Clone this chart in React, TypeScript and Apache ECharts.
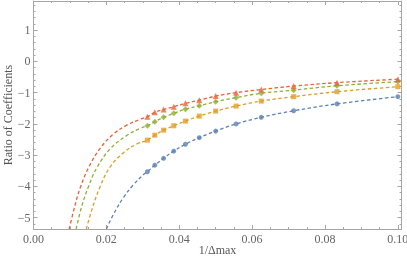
import React, { useEffect, useRef } from "react";
import * as echarts from "echarts";

// x positions: 1/Δmax
const xValues = [0.03125, 0.0333, 0.0357, 0.0385, 0.0417, 0.0455, 0.05, 0.0556, 0.0625, 0.0714, 0.0833, 0.1];
const blueValues = [-3.53, -3.32, -3.1, -2.87, -2.65, -2.44, -2.23, -2.0, -1.79, -1.58, -1.36, -1.13];
const orangeValues = [-2.52, -2.36, -2.2, -2.06, -1.91, -1.75, -1.59, -1.43, -1.27, -1.13, -0.97, -0.81];
const greenValues = [-2.06, -1.93, -1.79, -1.66, -1.53, -1.42, -1.29, -1.16, -1.02, -0.92, -0.78, -0.65];
const redValues = [-1.77, -1.63, -1.54, -1.45, -1.34, -1.24, -1.11, -1.0, -0.9, -0.79, -0.68, -0.57];

const redCurveExt = [[0.0098, -5.36], [0.0114, -4.6], [0.0128, -4.05], [0.0151, -3.4], [0.0183, -2.78], [0.0219, -2.33], [0.0256, -2.04], [0.0293, -1.85]];
const greenCurveExt = [[0.0117, -5.36], [0.0132, -4.65], [0.0151, -4.0], [0.0174, -3.4], [0.021, -2.8], [0.0256, -2.37], [0.0293, -2.14]];
const orangeCurveExt = [[0.0145, -5.36], [0.016, -4.75], [0.0183, -4.0], [0.021, -3.38], [0.0247, -2.92], [0.0284, -2.64]];
const blueCurveExt = [[0.02, -5.36], [0.0219, -4.9], [0.0247, -4.35], [0.0274, -3.95], [0.0302, -3.62]];

const yMajorTicks = [-5, -4, -3, -2, -1, 0, 1];
const yMinorTicks = [-5.2, -4.8, -4.6, -4.4, -4.2, -3.8, -3.6, -3.4, -3.2, -2.8, -2.6, -2.4, -2.2, -1.8, -1.6, -1.4, -1.2, -0.8, -0.6, -0.4, -0.2, 0.2, 0.4, 0.6, 0.8, 1.2, 1.4, 1.6, 1.8];

const COLORS = { blue: "#5E81B5", orange: "#E19C24", green: "#8FB032", red: "#EB6235" };
const FONT = "Liberation Serif";
const AXIS_COLOR = "#a6a6a6";
const LABEL_COLOR = "#666666";

function pairs(xs: number[], ys: number[]) {
  return xs.map((x, i) => [x, ys[i]]);
}

export default function App() {
  const ref = useRef<HTMLDivElement>(null);
  useEffect(() => {
    if (!ref.current) return;
    const chart = echarts.init(ref.current, null, { renderer: "svg" });
    const sets = [
      { key: "blue", vals: blueValues, ext: blueCurveExt, symbol: "circle", size: 5 },
      { key: "orange", vals: orangeValues, ext: orangeCurveExt, symbol: "rect", size: 5 },
      { key: "green", vals: greenValues, ext: greenCurveExt, symbol: "diamond", size: 6 },
      { key: "red", vals: redValues, ext: redCurveExt, symbol: "triangle", size: 6 },
    ];
    const series: any[] = [];
    sets.forEach((s) => {
      const color = (COLORS as any)[s.key];
      series.push({
        type: "line",
        data: [...s.ext, ...pairs(xValues, s.vals)],
        smooth: 0.4,
        showSymbol: false,
        symbol: "none",
        clip: true,
        lineStyle: { color, width: 1.3, type: [3.5, 2.5] },
        silent: true,
        z: 2,
      });
    });
    sets.forEach((s) => {
      const color = (COLORS as any)[s.key];
      series.push({
        type: "scatter",
        data: pairs(xValues, s.vals),
        symbol: s.symbol,
        symbolSize: s.size,
        itemStyle: { color },
        z: 3,
      });
    });
    const labelStyle = { color: LABEL_COLOR, fontFamily: FONT, fontSize: 12 };
    const yFmt = (v: number) => String(v).replace("-", "\u2212");
    const line = { show: true, onZero: false, lineStyle: { color: AXIS_COLOR } };
    const noLine = { show: false, onZero: false };
    chart.setOption({
      animation: false,
      grid: { left: 33.5, right: 5.5, top: 1, bottom: 32, containLabel: false, outerBoundsMode: "none" },
      xAxis: [
        {
          type: "value",
          position: "bottom",
          min: 0,
          max: 0.101,
          interval: 0.02,
          axisLine: line,
          axisTick: { show: true, inside: true, length: 4, lineStyle: { color: AXIS_COLOR } },
          minorTick: { show: true, splitNumber: 4, length: 2, lineStyle: { color: AXIS_COLOR } },
          splitLine: { show: false },
          axisLabel: { ...labelStyle, margin: 4, formatter: (v: number) => v.toFixed(2) },
          name: "1/\u0394max",
          nameLocation: "middle",
          nameGap: 15,
          nameMoveOverlap: false,
          nameTextStyle: { color: "#555", fontFamily: FONT, fontSize: 12 },
        },
        {
          type: "value",
          position: "top",
          min: 0,
          max: 0.101,
          interval: 0.02,
          axisLine: line,
          axisTick: { show: true, inside: true, length: 4, lineStyle: { color: AXIS_COLOR } },
          minorTick: { show: true, splitNumber: 4, length: 2, lineStyle: { color: AXIS_COLOR } },
          splitLine: { show: false },
          axisLabel: { show: false },
        },
      ],
      yAxis: [
        {
          type: "value",
          position: "left",
          min: -5.36,
          max: 1.93,
          axisLine: line,
          axisTick: { show: true, inside: true, length: 4, customValues: yMajorTicks, lineStyle: { color: AXIS_COLOR } },
          splitLine: { show: false },
          axisLabel: { ...labelStyle, margin: 3, customValues: yMajorTicks, formatter: yFmt },
          name: "Ratio of Coefficients",
          nameLocation: "middle",
          nameGap: 20,
          nameMoveOverlap: false,
          nameRotate: 90,
          nameTextStyle: { color: "#555", fontFamily: FONT, fontSize: 12 },
        },
        {
          type: "value",
          position: "left",
          min: -5.36,
          max: 1.93,
          axisLine: noLine,
          axisTick: { show: true, inside: true, length: 2, customValues: yMinorTicks, lineStyle: { color: AXIS_COLOR } },
          splitLine: { show: false },
          axisLabel: { show: false },
        },
        {
          type: "value",
          position: "right",
          min: -5.36,
          max: 1.93,
          axisLine: line,
          axisTick: { show: true, inside: true, length: 4, customValues: yMajorTicks, lineStyle: { color: AXIS_COLOR } },
          splitLine: { show: false },
          axisLabel: { show: false },
        },
        {
          type: "value",
          position: "right",
          min: -5.36,
          max: 1.93,
          axisLine: noLine,
          axisTick: { show: true, inside: true, length: 2, customValues: yMinorTicks, lineStyle: { color: AXIS_COLOR } },
          splitLine: { show: false },
          axisLabel: { show: false },
        },
      ],
      series,
    });
    return () => chart.dispose();
  }, []);
  return <div ref={ref} style={{ width: 407, height: 261, position: "fixed", left: 0, top: 0 }} />;
}
